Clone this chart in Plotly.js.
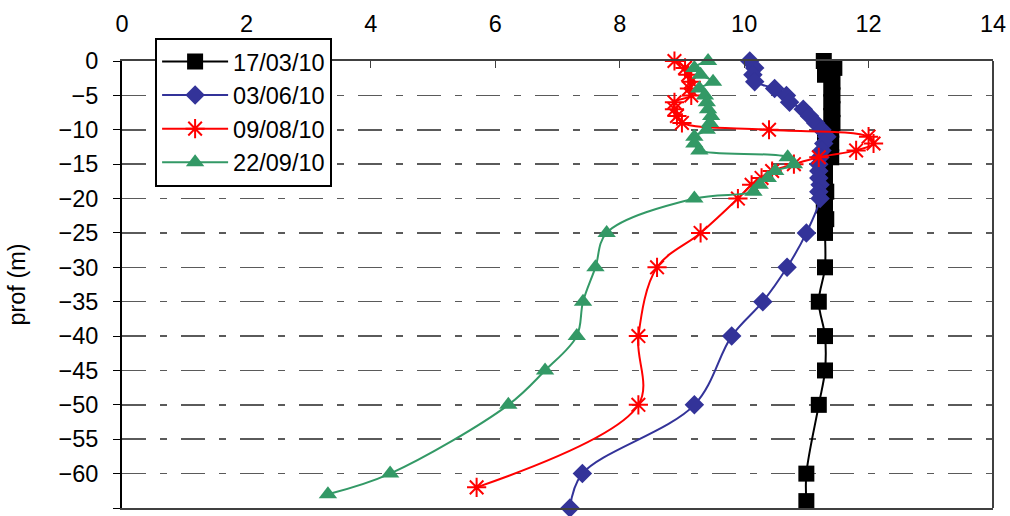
<!DOCTYPE html>
<html>
<head>
<meta charset="utf-8">
<script src="https://cdn.plot.ly/plotly-3.0.1.min.js"></script>
<style>html,body{margin:0;padding:0;background:#fff;}#chart{width:1010px;height:516px;}</style>
</head>
<body>
<div id="chart"></div>
<script>
// Series names
const seriesNames = ["17/03/10", "03/06/10", "09/08/10", "22/09/10"];

// 17/03/10
const depth1 = [0,-1,-2,-3,-4,-5,-6,-7,-8,-9,-10,-11,-12,-13,-14,-15,-16,-17,-18,-19,-20,-21,-22,-23,-24,-25,-30,-35,-40,-45,-50,-60,-64];
const temp1  = [11.28,11.45,11.3,11.42,11.4,11.42,11.4,11.42,11.4,11.42,11.4,11.3,11.4,11.38,11.4,11.3,11.3,11.28,11.3,11.32,11.3,11.28,11.3,11.32,11.3,11.3,11.3,11.2,11.3,11.3,11.2,11.0,11.0];

// 03/06/10
const depth2 = [0,-1,-2,-3,-4,-5,-6,-7,-8,-9,-10,-11,-12,-13,-14,-15,-16,-17,-18,-19,-20,-25,-30,-35,-40,-50,-60,-65];
const temp2  = [10.09,10.17,10.14,10.17,10.49,10.68,10.73,10.95,11.05,11.15,11.25,11.33,11.28,11.25,11.22,11.2,11.2,11.2,11.22,11.2,11.22,11.0,10.69,10.3,9.8,9.2,7.4,7.2];

// 09/08/10
const depth3 = [0,-1,-2,-3,-4,-5,-6,-7,-8,-9,-10,-11,-12,-13,-14,-15,-16,-17,-18,-20,-25,-30,-40,-50,-62];
const temp3  = [8.88,9.05,9.1,9.15,9.12,9.15,8.88,8.88,8.92,9.0,10.4,12.0,12.08,11.8,11.2,10.8,10.45,10.28,10.12,9.9,9.3,8.6,8.3,8.3,5.7];

// 22/09/10
const depth4 = [0,-1,-2,-3,-4,-5,-6,-7,-8,-9,-10,-11,-12,-13,-14,-15,-16,-17,-18,-19,-20,-25,-30,-35,-40,-45,-50,-60,-63];
const temp4  = [9.42,9.2,9.3,9.5,9.28,9.37,9.4,9.42,9.47,9.45,9.4,9.2,9.2,9.28,10.7,10.8,10.5,10.38,10.25,10.15,9.2,7.79,7.61,7.41,7.31,6.8,6.21,4.31,3.31];

const xTicks = [0,2,4,6,8,10,12,14];
const yTicks = [0,-5,-10,-15,-20,-25,-30,-35,-40,-45,-50,-55,-60,-65];

const colors = ["#000000", "#333399", "#ff0000", "#339966"];
const symbols = ["square", "diamond", "asterisk-open", "triangle-up"];
const sizes = [16, 15, 16, 16];
const xs = [temp1, temp2, temp3, temp4];
const ys = [depth1, depth2, depth3, depth4];

const traces = seriesNames.map((name, i) => ({
  x: xs[i], y: ys[i], name: name, type: "scatter", mode: "lines+markers",
  legendgroup: "g" + i,
  line: {color: colors[i], width: 2, shape: "spline", smoothing: 1},
  marker: {symbol: symbols[i], size: sizes[i], color: colors[i],
           line: {color: colors[i], width: i === 2 ? 2 : 0}},
  cliponaxis: false
}));

const font = {family: "Liberation Sans, Arial, sans-serif", size: 23.5, color: "#000"};
const layout = {
  width: 1010, height: 516,
  margin: {l: 122, r: 17, t: 61, b: 8},
  paper_bgcolor: "#fff", plot_bgcolor: "#fff",
  font: font,
  showlegend: true,
  legend: {x: 0.038, y: 1.052, xanchor: "left", yanchor: "top",
           bgcolor: "#fff", bordercolor: "#000", borderwidth: 2,
           font: font, tracegroupgap: 0, traceorder: "grouped", itemwidth: 66},
  xaxis: {range: [0, 14], side: "top", tickvals: xTicks, ticks: "inside", ticklen: 7,
          tickcolor: "#404040", showgrid: false, zeroline: false,
          showline: true, linecolor: "#404040", linewidth: 2, mirror: true,
          ticklabelstandoff: 18, tickfont: font},
  yaxis: {range: [-65, 0], tickvals: yTicks, ticks: "outside", ticklen: 7, tickcolor: "#000",
          showgrid: true, gridcolor: "#5a5a5a", gridwidth: 1.5, griddash: "24px,14px,7px,14px",
          zeroline: false, showline: true, linecolor: "#000", linewidth: 2,
          ticklabelstandoff: 10, tickfont: font,
          title: {text: "prof (m)", font: font, standoff: 26}},
  shapes: [{type: "line", xref: "paper", yref: "paper", x0: 1, x1: 1, y0: 0, y1: 1,
            line: {color: "#404040", width: 2}}]
};

Plotly.newPlot("chart", traces, layout, {displayModeBar: false, staticPlot: true});
</script>
</body>
</html>
